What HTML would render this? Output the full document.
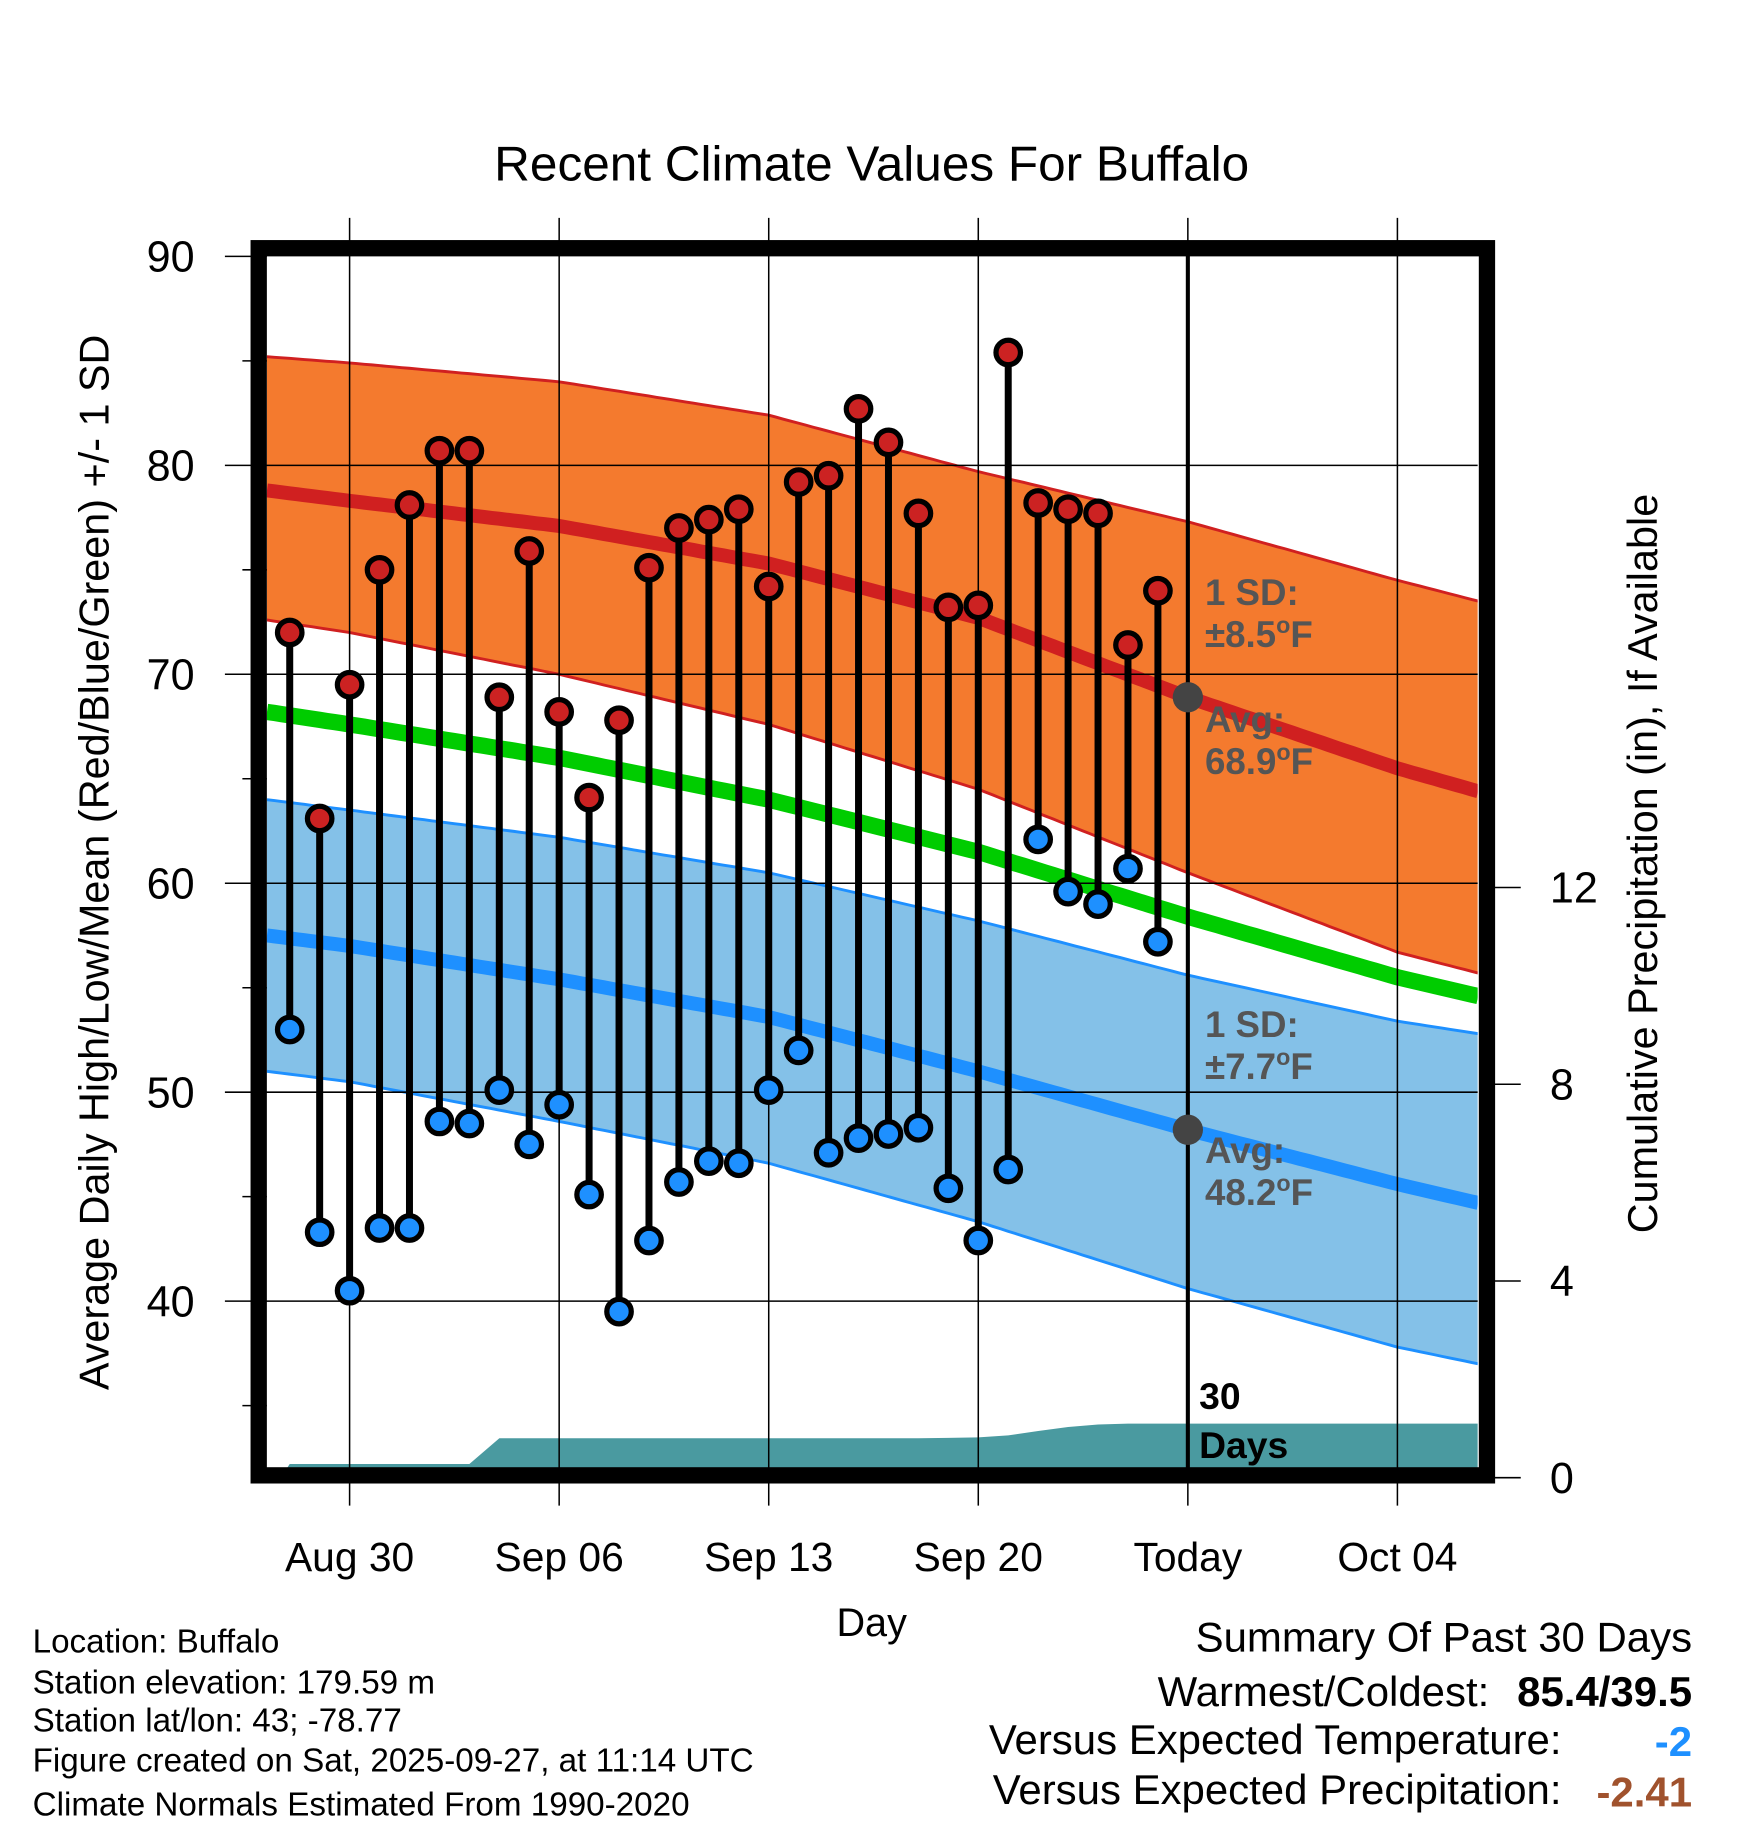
<!DOCTYPE html>
<html><head><meta charset="utf-8"><style>
html,body{margin:0;padding:0;background:#fff}
svg{display:block;font-family:"Liberation Sans",sans-serif}
</style></head><body>
<svg id="chart" width="1748" height="1828" viewBox="0 0 1500 1568.6" preserveAspectRatio="none" xmlns="http://www.w3.org/2000/svg">
<text x="748" y="155" font-size="42.5" text-anchor="middle">Recent Climate Values For Buffalo</text>
<g id="plot"></g>
<text x="748" y="1404" font-size="34" text-anchor="middle">Day</text>
<text transform="translate(93,740) rotate(-90)" font-size="35.5" text-anchor="middle">Average Daily High/Low/Mean (Red/Blue/Green) +/- 1 SD</text>
<text transform="translate(1422,741) rotate(-90)" font-size="35.5" text-anchor="middle">Cumulative Precipitation (in), If Available</text>
<g font-size="28.5">
<text x="28" y="1418">Location: Buffalo</text>
<text x="28" y="1453">Station elevation: 179.59 m</text>
<text x="28" y="1486">Station lat/lon: 43; -78.77</text>
<text x="28" y="1520">Figure created on Sat, 2025-09-27, at 11:14 UTC</text>
<text x="28" y="1558">Climate Normals Estimated From 1990-2020</text>
</g>
<g font-size="36" text-anchor="end">
<text x="1452" y="1417">Summary Of Past 30 Days</text>
<text x="1278" y="1464">Warmest/Coldest:</text>
<text x="1452" y="1464" font-weight="bold">85.4/39.5</text>
<text x="1340" y="1505">Versus Expected Temperature:</text>
<text x="1452" y="1507" font-weight="bold" fill="#1e90ff">-2</text>
<text x="1340" y="1548">Versus Expected Precipitation:</text>
<text x="1452" y="1550" font-weight="bold" fill="#a0522d">-2.41</text>
</g>
</svg>
<script>
// ---- data ----
const highs = [72,63.1,69.5,75,78.1,80.7,80.7,68.9,75.9,68.2,64.1,67.8,75.1,77,77.4,77.9,74.2,79.2,79.5,82.7,81.1,77.7,73.2,73.3,85.4,78.2,77.9,77.7,71.4,74.0];
const lows  = [53,43.3,40.5,43.5,43.5,48.6,48.5,50.1,47.5,49.4,45.1,39.5,42.9,45.7,46.7,46.6,50.1,52,47.1,47.8,48,48.3,45.4,42.9,46.3,62.1,59.6,59,60.7,57.2];
const firstDay = -2; // days relative to Aug 30
const normDays = [-2.76,0,7,14,21,28,35,37.7];
const normHigh = [78.8,78.3,77.1,75.3,72.7,68.9,65.5,64.4];
const normHighUp = [85.2,84.9,84.0,82.4,79.7,77.3,74.5,73.5];
const normHighLo = [72.6,72.0,70.0,67.6,64.5,60.5,56.7,55.7];
const normMean = [68.2,67.6,66.0,64.0,61.5,58.4,55.5,54.6];
const normLow = [57.5,57.0,55.4,53.6,51.0,48.2,45.6,44.7];
const normLowUp = [64.0,63.5,62.2,60.5,58.2,55.6,53.4,52.8];
const normLowLo = [51.0,50.5,48.6,46.6,43.8,40.6,37.8,37.0];
const precip = [0.28,0.28,0.28,0.28,0.28,0.28,0.28,0.8,0.8,0.8,0.8,0.8,0.8,0.8,0.8,0.8,0.8,0.8,0.8,0.8,0.8,0.8,0.81,0.82,0.86,0.95,1.03,1.08,1.1,1.1];
const xTickDays = [0,7,14,21,28,35];
const xTickLabels = ["Aug 30","Sep 06","Sep 13","Sep 20","Today","Oct 04"];
const yTicks = [40,50,60,70,80,90];
const yMinor = [35,45,55,65,75,85];
const pTicks = [0,4,8,12];
const todayDay = 28;
const todayHighAvg = 68.9, todayLowAvg = 48.2;

// ---- scales ----
const X0=229, X1=1268, Ytop=213, Ybot=1266;
const x = d => 300 + d*25.69;
const y = v => 220 + (90-v)*17.93;
const yp = p => 1268 - p*42.2;
const dMin=-2.76, dMax=37.7;

const NS="http://www.w3.org/2000/svg";
const plot=document.getElementById('plot');
function mk(tag,attrs,parent){const e=document.createElementNS(NS,tag);for(const k in attrs)e.setAttribute(k,attrs[k]);(parent||plot).appendChild(e);return e;}
function interp(arr,d){for(let i=0;i<normDays.length-1;i++){if(d<=normDays[i+1]){const t=(d-normDays[i])/(normDays[i+1]-normDays[i]);return arr[i]+t*(arr[i+1]-arr[i]);}}return arr[arr.length-1];}
function samples(arr){const pts=[];for(let d=dMin;d<dMax;d+=0.25)pts.push([x(d),y(interp(arr,d))]);pts.push([x(dMax),y(interp(arr,dMax))]);return pts;}
const P=pts=>pts.map(p=>p[0].toFixed(1)+','+p[1].toFixed(1)).join(' ');

const defs=mk('defs',{});
const cp=mk('clipPath',{id:'clip'},defs);
mk('rect',{x:X0,y:Ytop,width:X1-X0,height:Ybot-Ytop},cp);
const g=mk('g',{'clip-path':'url(#clip)'});



function band(up,lo,fill,stroke,name){
  const u=samples(up), l=samples(lo).reverse();
  const e=mk('polygon',{points:P(u.concat(l)),fill:fill},g);
  
  
  const a=mk('polyline',{points:P(samples(up)),fill:'none',stroke:stroke,'stroke-width':2.5},g);
  
  
  const b=mk('polyline',{points:P(samples(lo)),fill:'none',stroke:stroke,'stroke-width':2.5},g);
  
  
}
band(normHighUp,normHighLo,'#f47a2e','#d02020','high-sd-band');
band(normLowUp,normLowLo,'#84c1e8','#1e90ff','low-sd-band');
function line(arr,color,w,name){
  const e=mk('polyline',{points:P(samples(arr)),fill:'none',stroke:color,'stroke-width':w},g);
  
  
}
line(normHigh,'#d02020',12,'avg-high-line');
line(normMean,'#00cc00',14,'avg-mean-line');
line(normLow,'#1e90ff',12,'avg-low-line');

(function(){
  const pts=[[x(dMin),yp(0)],[x(firstDay-0.3),yp(0)]];
  precip.forEach((p,i)=>pts.push([x(firstDay+i),yp(p)]));
  pts.push([x(dMax),yp(precip[precip.length-1])]);
  pts.push([x(dMax),yp(0)]);
  const e=mk('polygon',{points:P(pts),fill:'#4a9aa0'},g);
  
  
})();

xTickDays.forEach((d,i)=>{
  const e=mk('line',{x1:x(d),x2:x(d),y1:187,y2:1292,stroke:'#000','stroke-width':1.3});
  
  
  const t=mk('text',{x:x(d),y:1348,'font-size':35,'text-anchor':'middle'});
  t.textContent=xTickLabels[i];
  
  
});
yTicks.forEach(v=>{
  const e=mk('line',{x1:193,x2:v<90?X1:X0,y1:y(v),y2:y(v),stroke:'#000','stroke-width':1.3});
  
  
  const t=mk('text',{x:167,y:y(v)+13,'font-size':37,'text-anchor':'end'});
  t.textContent=v;
  
  
});
yMinor.forEach(v=>{
  const e=mk('line',{x1:208,x2:X0,y1:y(v),y2:y(v),stroke:'#000','stroke-width':1.3});
  
  
});
pTicks.forEach(p=>{
  const e=mk('line',{x1:1270,x2:1305,y1:yp(p),y2:yp(p),stroke:'#000','stroke-width':1.3});
  
  
  const t=mk('text',{x:1330,y:yp(p)+13,'font-size':37});
  t.textContent=p;
  
  
});

(function(){
  const e=mk('line',{x1:x(todayDay),x2:x(todayDay),y1:Ytop,y2:Ybot,stroke:'#000','stroke-width':3.5});
  
  
})();

highs.forEach((h,i)=>{
  const d=firstDay+i;
  const s=mk('line',{x1:x(d),x2:x(d),y1:y(h),y2:y(lows[i]),stroke:'#000','stroke-width':6});
  
  
});
highs.forEach((h,i)=>{
  const d=firstDay+i;
  const a=mk('circle',{cx:x(d),cy:y(h),r:10.5,fill:'#cc2222',stroke:'#000','stroke-width':4.5});
  
  
  const b=mk('circle',{cx:x(d),cy:y(lows[i]),r:10.5,fill:'#1e90ff',stroke:'#000','stroke-width':4.5});
  
  
});
[todayHighAvg,todayLowAvg].forEach(v=>{
  const c=mk('circle',{cx:x(todayDay),cy:y(v),r:13,fill:'#444'});
  
  
});

function ann(txt,yy,name,color){
  const t=mk('text',{x:1034,y:yy,'font-size':31.5,'font-weight':'bold',fill:color||'#555'});
  t.innerHTML=txt;
  
  
}
ann('1 SD:',519,'high-sd-label');
ann('±8.5<tspan dy="-12" font-size="20">o</tspan><tspan dy="12">F</tspan>',555,'high-sd-value');
ann('Avg:',628,'high-avg-label');
ann('68.9<tspan dy="-12" font-size="20">o</tspan><tspan dy="12">F</tspan>',664,'high-avg-value');
ann('1 SD:',890,'low-sd-label');
ann('±7.7<tspan dy="-12" font-size="20">o</tspan><tspan dy="12">F</tspan>',926,'low-sd-value');
ann('Avg:',998,'low-avg-label');
ann('48.2<tspan dy="-12" font-size="20">o</tspan><tspan dy="12">F</tspan>',1034,'low-avg-value');
(function(){
  const a=mk('text',{x:1029,y:1209,'font-size':32,'font-weight':'bold'});a.textContent='30';
  
  
  const b=mk('text',{x:1029,y:1251,'font-size':32,'font-weight':'bold'});b.textContent='Days';
  
  
})();

(function(){
  const f=mk('rect',{x:222,y:213,width:1054,height:1053,fill:'none',stroke:'#000','stroke-width':14});
  
  
})();
</script>
</body></html>
